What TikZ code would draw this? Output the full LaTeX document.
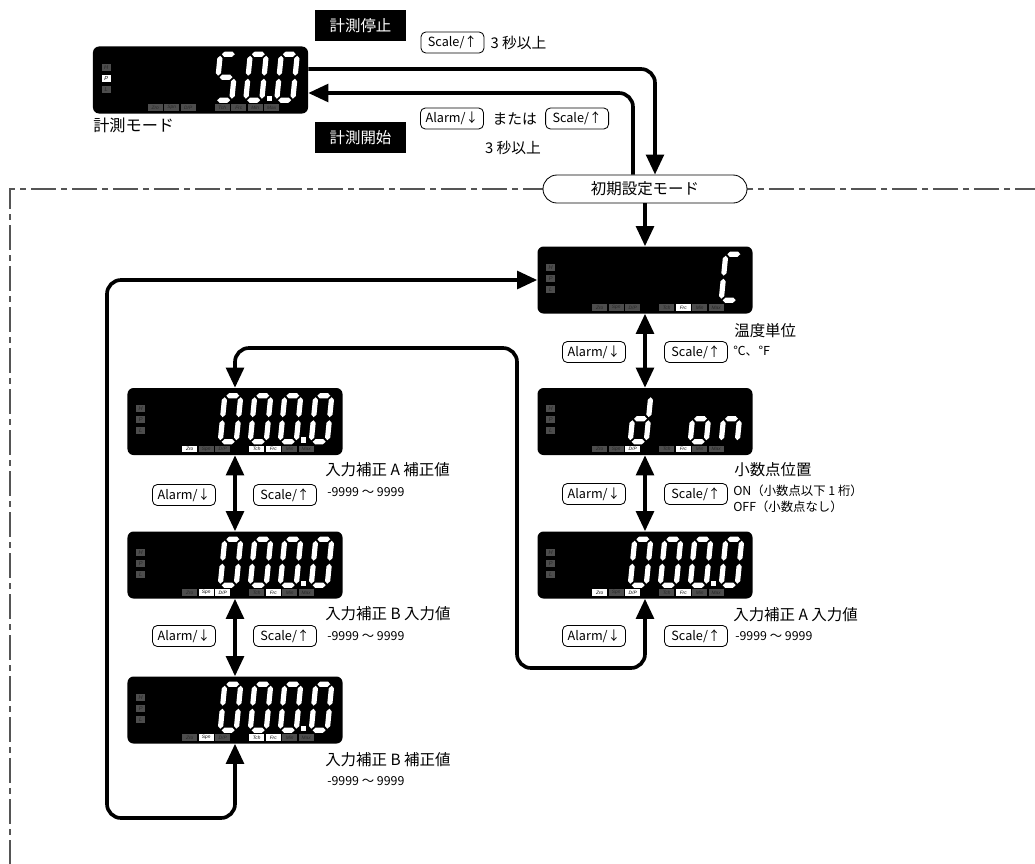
\documentclass[tikz,border=0pt]{standalone}
\usepackage{fontspec}
\setmainfont{Noto Sans CJK JP}
\newfontfamily\lcdfont{Liberation Sans}
\usetikzlibrary{arrows.meta,positioning}

\definecolor{lcdgray}{HTML}{4D4D4D}
\definecolor{lcddim}{HTML}{262626}
\definecolor{framegray}{HTML}{555555}

\tikzset{
  lcd/.style={fill=black, rounded corners=1.5mm, minimum width=53.75mm,
    minimum height=16.75mm, inner sep=0pt},
  ind/.style={minimum width=2.25mm, minimum height=1.8mm, inner sep=0pt,
    font=\lcdfont\itshape\fontsize{4}{4}\selectfont},
  ind on/.style={ind, fill=white, text=black},
  ind off/.style={ind, fill=lcdgray, text=lcddim},
  lab/.style={minimum width=3.75mm, minimum height=1.65mm, inner sep=0pt,
    font=\lcdfont\itshape\fontsize{3.4}{3.4}\selectfont},
  lab on/.style={lab, fill=white, text=black},
  lab off/.style={lab, fill=lcdgray, text=lcddim},
  btn/.style={draw, rounded corners=1.2mm, minimum width=15.75mm,
    minimum height=5.25mm, inner sep=0pt, line width=0.6pt,
    font=\fontsize{9}{10}\selectfont},
  tagbox/.style={fill=black, text=white, minimum width=22.75mm,
    minimum height=7.75mm, font=\fontsize{11}{13}\selectfont},
  modebox/.style={draw, fill=white, rounded corners=3.5mm, minimum width=51mm,
    minimum height=7mm, line width=0.6pt, font=\fontsize{11}{13}\selectfont},
  txt/.style={inner sep=0pt, font=\fontsize{10.5}{13}\selectfont},
  head/.style={anchor=west, inner sep=0pt, font=\fontsize{11}{13}\selectfont},
  small/.style={anchor=west, inner sep=0pt, font=\fontsize{8.8}{10}\selectfont},
  flow/.style={line width=2.6pt, rounded corners=3.5mm},
  setframe/.style={draw=framegray, line width=0.35mm,
    dash pattern=on 6.25mm off 1.25mm on 1.5mm off 1.25mm},
  % seven segments of one digit
  segA/.pic={\fill[white] (1.5,-46) -- (4.1,-48.6) -- (11.9,-48.6) -- (14.5,-46) -- (11.9,-43.4) -- (4.1,-43.4) -- cycle;},
  segG/.pic={\fill[white] (1.5,-23) -- (4.1,-25.6) -- (11.9,-25.6) -- (14.5,-23) -- (11.9,-20.4) -- (4.1,-20.4) -- cycle;},
  segD/.pic={\fill[white] (1.5,0) -- (4.1,-2.6) -- (11.9,-2.6) -- (14.5,0) -- (11.9,2.6) -- (4.1,2.6) -- cycle;},
  segF/.pic={\fill[white] (0,-24.5) -- (2.6,-27.1) -- (2.6,-41.9) -- (0,-44.5) -- (-2.6,-41.9) -- (-2.6,-27.1) -- cycle;},
  segE/.pic={\fill[white] (0,-1.5) -- (2.6,-4.1) -- (2.6,-18.9) -- (0,-21.5) -- (-2.6,-18.9) -- (-2.6,-4.1) -- cycle;},
  segB/.pic={\fill[white] (16,-24.5) -- (18.6,-27.1) -- (18.6,-41.9) -- (16,-44.5) -- (13.4,-41.9) -- (13.4,-27.1) -- cycle;},
  segC/.pic={\fill[white] (16,-1.5) -- (18.6,-4.1) -- (18.6,-18.9) -- (16,-21.5) -- (13.4,-18.9) -- (13.4,-4.1) -- cycle;},
}

\def\dpname{D/P}
% #1 panel, #2 P lamp, #3-#9 Zro Spn D/P Tch Frc Min Max
\newcommand{\lcdpanel}[9]{%
  \begin{scope}[shift={(#1.north west)}]
    \node[ind off] (#1-H) at (13.5,21) {H};
    \node[ind #2] (#1-P) at (13.5,32) {P};
    \node[ind off] (#1-L) at (13.5,43) {L};
    \foreach \t/\x/\s in {Zro/62.5/#3,Spn/79/#4,\dpname/95.5/#5,Tch/129.5/#6,Frc/146/#7,Min/162.5/#8,Max/179/#9}
      \node[lab \s] at (\x,61.3) {\t};
  \end{scope}}
% #1 panel, #2 left of digit, #3 segments
\newcommand{\lcddigit}[3]{%
  \begin{scope}[shift={(#1.north west)}, shift={(#2,54)}, xslant=0.1]
    \foreach \s in {#3} {\pic[transform shape] {seg\s};}
  \end{scope}}
\newcommand{\lcddot}[1]{\fill[white, shift={(#1.north west)}] (174,49.5) rectangle (179,55);}
\newcommand{\lcdzeros}[1]{%
  \foreach \p in {93,123,153,184} {\lcddigit{#1}{\p}{A,B,C,D,E,F}}
  \lcddot{#1}}

\begin{document}
\begin{tikzpicture}[x=0.25mm, y=-0.25mm, >={Triangle[length=5mm,width=4.4mm]}]
\useasboundingbox (0,0) rectangle (1035,864);

\draw[setframe] (1040,189) -- (10,189) -- (10,870);

% displays
\node[lcd] (d0) at (200.5,80) {};
\node[lcd] (d1) at (645,280) {};
\node[lcd] (d2) at (645,421.5) {};
\node[lcd] (d3) at (645,565) {};
\node[lcd] (l1) at (235,421.5) {};
\node[lcd] (l2) at (235,565) {};
\node[lcd] (l3) at (235,710) {};

\lcdpanel{d0}{on}{off}{off}{off}{off}{off}{off}{off}
\lcdpanel{d1}{off}{off}{off}{off}{off}{on}{off}{off}
\lcdpanel{d2}{off}{off}{off}{on}{off}{on}{off}{off}
\lcdpanel{d3}{off}{on}{off}{on}{off}{on}{off}{off}
\lcdpanel{l1}{off}{on}{off}{off}{on}{on}{off}{off}
\lcdpanel{l2}{off}{off}{on}{on}{off}{on}{off}{off}
\lcdpanel{l3}{off}{off}{on}{off}{on}{on}{off}{off}

\lcddigit{d0}{123}{A,F,G,C,D}
\lcddigit{d0}{153}{A,B,C,D,E,F}
\lcddigit{d0}{184}{A,B,C,D,E,F}
\lcddot{d0}
\lcddigit{d1}{184}{A,D,E,F}
\lcddigit{d2}{93}{B,C,D,E,G}
\lcddigit{d2}{153}{C,D,E,G}
\lcddigit{d2}{184}{C,E,G}
\lcdzeros{d3}
\lcdzeros{l1}
\lcdzeros{l2}
\lcdzeros{l3}

% measuring mode
\node[anchor=west, inner sep=0pt, font=\fontsize{11.5}{14}\selectfont] (c0) at (93,125) {計測モード};
\node[tagbox] (stop) at (360.5,25.5) {計測停止};
\node[tagbox] (start) at (360.5,137.5) {計測開始};
\node[btn] (b1) at (452.5,42.5) {Scale/↑};
\node[txt, right=1.5mm of b1] (t1) {3 秒以上};
\node[btn] (b2) at (452,118.5) {Alarm/↓};
\node[txt, right=2.1mm of b2] (t2) {または};
\node[btn, right=2mm of t2] (b3) {Scale/↑};
\node[txt] (t3) at (513,148) {3 秒以上};

\node[modebox] (init) at (645,189) {初期設定モード};

\draw[flow,->] ([yshift=2.75mm]d0.east) -| ([xshift=2.5mm]init.north);
\draw[flow,->] ([xshift=-3mm]init.north) |- ([yshift=-3.25mm]d0.east);
\draw[flow,->] (init) -- (d1);

% right column
\draw[flow,<->] (d1) -- (d2);
\draw[flow,<->] (d2) -- (d3);
\node[btn] (a1) at (594,352) {Alarm/↓};
\node[btn] (s1) at (696,352) {Scale/↑};
\node[btn] (a2) at (594,494) {Alarm/↓};
\node[btn] (s2) at (696,494) {Scale/↑};
\node[btn] (a3) at (594,636) {Alarm/↓};
\node[btn] (s3) at (696,636) {Scale/↑};
\node[head] (u1) at (734,331) {温度単位};
\node[small] (u2) at (733,351) {℃、℉};
\node[head] (p1) at (734,470) {小数点位置};
\node[small] (p2) at (733,491) {ON（小数点以下 1 桁）};
\node[small] (p3) at (733,507) {OFF（小数点なし）};
\node[head] (r1) at (733,615) {入力補正 A 入力値};
\node[small] (r2) at (735,636) {-9999 ～ 9999};

% left column
\draw[flow,<->] (l1) -- (l2);
\draw[flow,<->] (l2) -- (l3);
\node[btn] (la1) at (184,495) {Alarm/↓};
\node[btn] (ls1) at (285,495) {Scale/↑};
\node[btn] (la2) at (184,636) {Alarm/↓};
\node[btn] (ls2) at (285,636) {Scale/↑};
\node[head] (q1) at (325,470) {入力補正 A 補正値};
\node[small] (q2) at (327,492) {-9999 ～ 9999};
\node[head] (q3) at (325,614) {入力補正 B 入力値};
\node[small] (q4) at (327,636) {-9999 ～ 9999};
\node[head] (q5) at (325,760) {入力補正 B 補正値};
\node[small] (q6) at (327,781) {-9999 ～ 9999};

% loops
\coordinate (lb) at (107,818);
\draw[flow,<->] (l3.south) |- (lb) |- (d1.west);
\coordinate (rt) at (517,348);
\coordinate (rb) at (517,668);
\draw[flow,<->] (l1.north) |- (rt) -- (rb) -| (d3.south);
\end{tikzpicture}
\end{document}
